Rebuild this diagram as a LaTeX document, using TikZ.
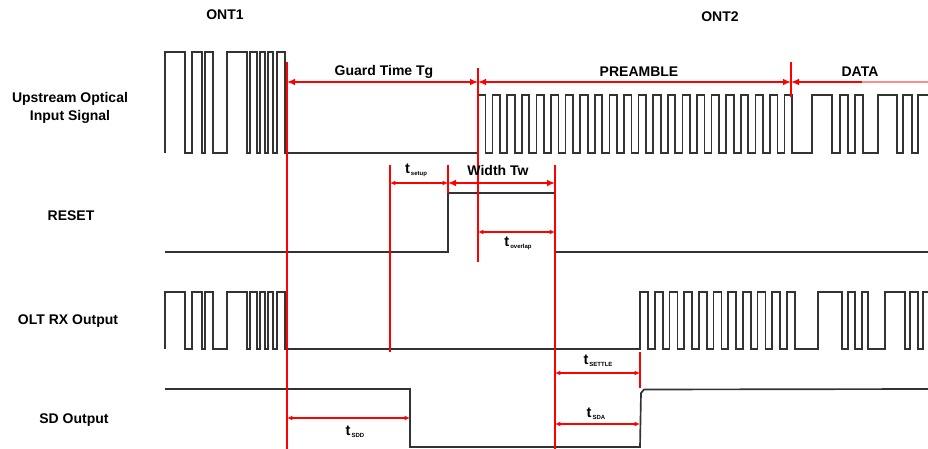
\documentclass[tikz,border=0pt]{standalone}
\usepackage{fontspec}
\setmainfont{Liberation Sans}
\usetikzlibrary{arrows.meta}
\newcommand\tlab[1]{\bfseries\fontsize{11}{12}\selectfont t\raisebox{-1.5pt}{\fontsize{4.5}{5}\selectfont\,#1}}
\begin{document}
\begin{tikzpicture}[x=0.75pt,y=-0.75pt,
  sig/.style={draw=black!80,line width=1.25pt,line join=miter},
  redline/.style={draw=red,line width=1pt},
  dim/.style={draw=red,line width=1pt,{Latex[length=6pt,width=5pt]}-{Latex[length=6pt,width=5pt]}},
  ldim/.style={draw=red,line width=1pt,{Latex[length=6pt,width=5pt]}-},
  sdim/.style={draw=red,line width=0.8pt,{Latex[length=4pt,width=3.5pt]}-{Latex[length=4pt,width=3.5pt]}},
  lbl/.style={font=\bfseries\fontsize{10.5}{12}\selectfont,inner sep=0pt},
  tl/.style={inner sep=0pt}]
\useasboundingbox (0,0) rectangle (928,449);

% ---- left labels ----
\node[lbl] (ont1) at (225,15) {ONT1};
\node[lbl] (ont2) at (720,17) {ONT2};
\node[lbl,align=center] (up) at (70,108) {Upstream Optical\\[1pt]Input Signal};
\node[lbl] (reset) at (71,216) {RESET};
\node[lbl] (olt) at (68,321) {OLT RX Output};
\node[lbl] (sd) at (74,420) {SD Output};

% ---- Upstream optical input signal ----
\draw[sig] (165,153)
  \foreach \a/\b in {165/185,192/202,205/213,227/247,250/257,260/265,268/273,277/285}
    { -- (\a,153) -- (\a,52) -- (\b,52) -- (\b,153)} -- (478,153)
  \foreach \k in {0,...,21}
    { -- ({478+14.6*\k},153) -- ({478+14.6*\k},95) -- ({485.5+14.6*\k},95) -- ({485.5+14.6*\k},153)}
  \foreach \a/\b in {812/832,840/848,855/863,878/897,903/912}
    { -- (\a,153) -- (\a,95) -- (\b,95) -- (\b,153)} -- (918,153) -- (918,95) -- (928,95);

% ---- RESET ----
\draw[sig] (165,252) -- (448,252) -- (448,193) -- (555,193) -- (555,252) -- (928,252);

% ---- OLT RX output ----
\draw[sig] (165,349)
  \foreach \a/\b in {165/185,192/202,205/213,227/247,250/257,260/265,268/273,277/285}
    { -- (\a,349) -- (\a,292) -- (\b,292) -- (\b,349)} -- (640,349)
  \foreach \k in {0,...,10}
    { -- ({640+14.7*\k},349) -- ({640+14.7*\k},292) -- ({648+14.7*\k},292) -- ({648+14.7*\k},349)}
  \foreach \a/\b in {818/842,848/855,862/868,885/905,910/918}
    { -- (\a,349) -- (\a,292) -- (\b,292) -- (\b,349)} -- (923,349) -- (923,292) -- (928,292);

% ---- SD output ----
\draw[sig] (165,389) -- (410,389) -- (410,447) -- (640,447) -- (641,393) -- (644,389.5) -- (928,389);

% ---- red markers ----
\draw[redline] (287,62) -- (287,449);
\draw[redline] (478,68) -- (478,262);
\draw[redline] (791,62) -- (791,97);
\draw[redline] (390,165) -- (390,352);
\draw[redline] (448,165) -- (448,193);
\draw[redline] (555,165) -- (555,449);
\draw[redline] (640,352) -- (640,388);

% ---- dimension arrows ----
\coordinate (g0) at (287,82);
\coordinate (g1) at (478,82);
\coordinate (g2) at (791,82);
\coordinate (g3) at (862,82);
\coordinate (g4) at (928,82);
\draw[dim] (g0) -- (g1);
\draw[dim] (g1) -- (g2);
\draw[ldim] (g2) -- (g3);
\draw[draw=red!45,line width=1pt] (g3) -- (g4);
\node[lbl] (guard) at (384,72) {Guard Time Tg};
\node[lbl] (pre) at (639,72) {PREAMBLE};
\node[lbl] (data) at (860,72) {DATA};

\coordinate (s0) at (390,183);
\coordinate (s1) at (448,183);
\coordinate (s2) at (555,183);
\draw[sdim] (s0) -- (s1);
\draw[dim] (s1) -- (s2);
\node[tl] (tsetup) at (416,170) {\tlab{setup}};
\node[lbl] (width) at (498,170) {Width Tw};

\coordinate (o0) at (478,232);
\coordinate (o1) at (555,232);
\draw[sdim] (o0) -- (o1);
\node[tl] (toverlap) at (518,243) {\tlab{overlap}};

\coordinate (e0) at (555,373);
\coordinate (e1) at (640,373);
\draw[sdim] (e0) -- (e1);
\node[tl] (tsettle) at (598,361) {\tlab{SETTLE}};

\coordinate (d0) at (287,418);
\coordinate (d1) at (410,418);
\draw[sdim] (d0) -- (d1);
\node[tl] (tsdd) at (355,432) {\tlab{SDD}};

\coordinate (a0) at (555,424);
\coordinate (a1) at (640,424);
\draw[sdim] (a0) -- (a1);
\node[tl] (tsda) at (596,414) {\tlab{SDA}};
\end{tikzpicture}
\end{document}
